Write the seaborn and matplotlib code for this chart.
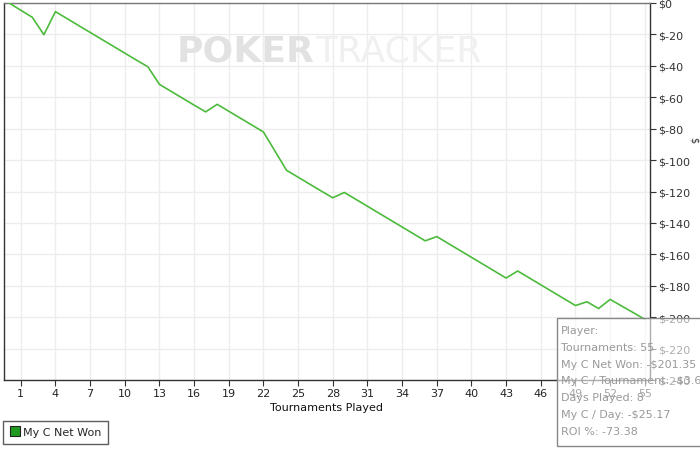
import matplotlib
matplotlib.use("Agg")
import matplotlib.pyplot as plt
import seaborn as sns
import pandas as pd
from matplotlib.patches import Rectangle
from matplotlib.lines import Line2D

# cumulative net won after each tournament (0 = start)
tournaments = list(range(0, 56))
net_won = [0.0, -4.6, -9.1, -20.2, -5.5, -9.9, -14.3, -18.7, -23.1, -27.5,
           -31.9, -36.3, -40.6, -51.8, -56.2, -60.6, -65.0, -69.3, -64.5, -68.9,
           -73.3, -77.7, -82.1, -94.3, -106.5, -110.9, -115.3, -119.7, -124.0, -120.6,
           -125.0, -129.4, -133.8, -138.2, -142.6, -147.0, -151.4, -148.7, -153.1, -157.5,
           -161.9, -166.3, -170.7, -175.1, -170.6, -175.0, -179.4, -183.8, -188.2, -192.6,
           -190.2, -194.5, -188.7, -192.9, -197.1, -201.35]

x_ticks = list(range(1, 56, 3))
y_ticks = list(range(0, -241, -20))
y_labels = ["$0"] + [f"$-{abs(v)}" for v in y_ticks[1:]]

tooltip_lines = ["Player:", "Tournaments: 55", "My C Net Won: -$201.35",
                 "My C / Tournament: -$3.66", "Days Played: 8",
                 "My C / Day: -$25.17", "ROI %: -73.38"]

sns.set_style("whitegrid")
plt.rcParams['font.family'] = ['DejaVu Sans']

df = pd.DataFrame({"Tournaments Played": tournaments, "Net Won": net_won})

fig = plt.figure(figsize=(7, 4.52), dpi=100)
ax = fig.add_axes([4 / 700, 1 - 381 / 452, 646 / 700, 377 / 452])
sns.lineplot(data=df, x="Tournaments Played", y="Net Won", ax=ax,
             color="#4cbb3c", linewidth=1.2, zorder=3)

ax.set_xlim(-0.45, 55.45)
ax.set_ylim(-240, 0)
ax.set_xticks(x_ticks)
ax.set_xticklabels([str(t) for t in x_ticks], fontsize=8, color="#222222")
ax.set_yticks(y_ticks)
ax.set_yticklabels(y_labels, fontsize=8, color="#333333")
ax.yaxis.tick_right()
ax.tick_params(axis="both", which="both", length=4, width=0.8, color="#333333",
               direction="out", pad=2)
ax.tick_params(axis="x", bottom=True)
ax.tick_params(axis="y", right=True, left=False)
ax.grid(True, color="#ededed", linewidth=1)
ax.set_xlabel("Tournaments Played", fontsize=8, color="#111111", labelpad=3)
ax.set_ylabel("")
for side in ["left", "bottom", "right"]:
    ax.spines[side].set_color("#333333")
    ax.spines[side].set_linewidth(1)
ax.spines["top"].set_color("#777777")
ax.spines["top"].set_linewidth(1)

fig.text(694 / 700, 1 - 140 / 452, "$", rotation=270, fontsize=7, color="#333333",
         ha="center", va="center")

# watermark
ax.text(0.481, 0.875, "POKER", transform=ax.transAxes, fontsize=26, fontweight="bold",
        color="#e2e2e2", ha="right", va="center", zorder=1)
ax.text(0.481, 0.875, "TRACKER", transform=ax.transAxes, fontsize=26,
        color="#f0f0f0", ha="left", va="center", zorder=1)

# legend
handle = Line2D([], [], marker="s", linestyle="none", markersize=7,
                markerfacecolor="#1f9a1f", markeredgecolor="#222222", markeredgewidth=0.8)
leg = fig.legend([handle], ["My C Net Won"], loc="lower left",
                 bbox_to_anchor=(3 / 700, 1 - 445 / 452), fontsize=8,
                 frameon=True, fancybox=False, handletextpad=0.2,
                 handlelength=1, borderpad=0.6, borderaxespad=0)
leg.get_frame().set_edgecolor("#333333")
leg.get_frame().set_linewidth(1)

# tooltip box
box = Rectangle((557 / 700, 1 - 447 / 452), 160 / 700, 128 / 452,
                transform=fig.transFigure, facecolor="white", alpha=0.6,
                edgecolor="none", zorder=10)
fig.add_artist(box)
border = Rectangle((557 / 700, 1 - 447 / 452), 160 / 700, 128 / 452,
                   transform=fig.transFigure, facecolor="none",
                   edgecolor="#888888", linewidth=1, zorder=11)
fig.add_artist(border)
for i, line in enumerate(tooltip_lines):
    fig.text(561 / 700, 1 - (331 + i * 16.8) / 452, line, fontsize=8,
             color="#999999", ha="left", va="center", zorder=12)

fig.savefig("out.png", dpi=100)
